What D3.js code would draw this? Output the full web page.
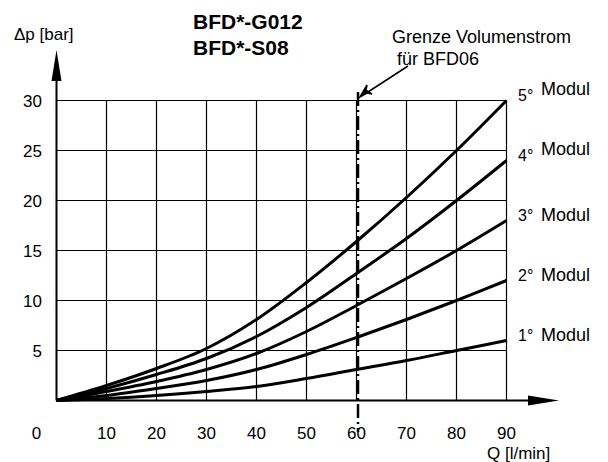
<!DOCTYPE html>
<meta charset="utf-8">
<style>
body { margin: 0; background: #fff; }
text { font-family: "Liberation Sans", Arial, sans-serif; fill: #000; }
.grid line { stroke: #000; stroke-width: 1.2; }
.curve { fill: none; stroke: #000; stroke-width: 3; }
</style>
<body>
<script src="https://d3js.org/d3.v7.min.js"></script>
<script>
// flow Q [l/min]
var flow = [0, 10, 20, 30, 40, 50, 60, 70, 80, 90];
// pressure drop [bar] per module count
var modul1 = [0, 0.2, 0.5, 0.9, 1.4, 2.2, 3.1, 4.0, 5.0, 6];
var modul2 = [0, 0.5, 1.2, 2.0, 3.1, 4.6, 6.3, 8.1, 10.0, 12];
var modul3 = [0, 0.9, 1.9, 3.1, 4.7, 6.9, 9.5, 12.2, 15.0, 18];
var modul4 = [0, 1.2, 2.6, 4.2, 6.4, 9.3, 12.7, 16.2, 20.0, 24];
var modul5 = [0, 1.5, 3.2, 5.2, 8.1, 11.8, 15.9, 20.3, 25.0, 30];
var modulNames = ["1°", "2°", "3°", "4°", "5°"];
var xTicks = [0, 10, 20, 30, 40, 50, 60, 70, 80, 90];
var yTicks = [5, 10, 15, 20, 25, 30];
var limitFlow = 60;

var w = 608, h = 462;

var x = d3.scaleLinear().domain([0, 90]).range([56.5, 506.5]);
var y = d3.scaleLinear().domain([0, 30]).range([400.5, 100.5]);

var svg = d3.select("body").append("svg")
    .attr("width", w)
    .attr("height", h);

// grid
var grid = svg.append("g").attr("class", "grid");
grid.selectAll(".gx")
    .data(xTicks.slice(1))
    .enter().append("line")
    .attr("x1", function(d) { return x(d); })
    .attr("x2", function(d) { return x(d); })
    .attr("y1", y(0))
    .attr("y2", y(30));
grid.selectAll(".gy")
    .data(yTicks)
    .enter().append("line")
    .attr("x1", x(0))
    .attr("x2", x(90))
    .attr("y1", function(d) { return y(d); })
    .attr("y2", function(d) { return y(d); });

// axes with arrows
svg.append("line")
    .attr("x1", x(0)).attr("x2", x(0))
    .attr("y1", y(0)).attr("y2", 75)
    .attr("stroke", "#000").attr("stroke-width", 2);
svg.append("path")
    .attr("d", "M" + x(0) + ",50 L" + (x(0) - 5) + ",81 L" + (x(0) + 5) + ",81 Z")
    .attr("fill", "#000");
svg.append("line")
    .attr("x1", x(0)).attr("x2", 535)
    .attr("y1", y(0)).attr("y2", y(0))
    .attr("stroke", "#000").attr("stroke-width", 2);
svg.append("path")
    .attr("d", "M559," + y(0) + " L528," + (y(0) - 5) + " L528," + (y(0) + 5) + " Z")
    .attr("fill", "#000");

// tick labels
svg.selectAll(".xl")
    .data(xTicks)
    .enter().append("text")
    .attr("x", function(d) { return d === 0 ? x(0) - 20 : x(d); })
    .attr("y", 439)
    .attr("text-anchor", "middle")
    .attr("font-size", 17)
    .text(function(d) { return d; });
svg.selectAll(".yl")
    .data(yTicks)
    .enter().append("text")
    .attr("x", 42)
    .attr("y", function(d) { return y(d) + 6; })
    .attr("text-anchor", "end")
    .attr("font-size", 17)
    .text(function(d) { return d; });

svg.append("text").attr("x", 14).attr("y", 40).attr("font-size", 17).text("Δp [bar]");
svg.append("text").attr("x", 487).attr("y", 459).attr("font-size", 17).text("Q [l/min]");

// titles
svg.append("text").attr("x", 193).attr("y", 29).attr("font-size", 21).attr("font-weight", "bold").text("BFD*-G012");
svg.append("text").attr("x", 193).attr("y", 55).attr("font-size", 21).attr("font-weight", "bold").text("BFD*-S08");

// curves
var series = [modul1, modul2, modul3, modul4, modul5];
var line = d3.line()
    .x(function(d, i) { return x(flow[i]); })
    .y(function(d) { return y(d); })
    .curve(d3.curveCatmullRom);
svg.selectAll(".curve")
    .data(series)
    .enter().append("path")
    .attr("class", "curve")
    .attr("d", line);

// module labels
var labelY = [341, 281, 221, 161, 101];
var modulY = [341, 281, 221, 155, 95];
series.forEach(function(s, i) {
    svg.append("text").attr("x", 518).attr("y", labelY[i]).attr("font-size", 16).text(modulNames[i]);
    svg.append("text").attr("x", 541).attr("y", modulY[i]).attr("font-size", 18).text("Modul");
});

// limit line
svg.append("line")
    .attr("x1", x(limitFlow) + 1.5).attr("x2", x(limitFlow) + 1.5)
    .attr("y1", 92).attr("y2", 432)
    .attr("stroke", "#000").attr("stroke-width", 2.5)
    .attr("stroke-dasharray", "14,4,2,4");

svg.append("text").attr("x", 392).attr("y", 43).attr("font-size", 18).text("Grenze Volumenstrom");
svg.append("text").attr("x", 397).attr("y", 65).attr("font-size", 18).text("für BFD06");

// annotation arrow
svg.append("line")
    .attr("x1", 408).attr("y1", 66)
    .attr("x2", 368).attr("y2", 92)
    .attr("stroke", "#000").attr("stroke-width", 1.5);
svg.append("path")
    .attr("d", "M360,97 L367,85 L366,90 L372,94 L367,93 Z")
    .attr("fill", "#000")
    .attr("stroke", "#000")
    .attr("stroke-width", 1.5);
</script>
</body>
